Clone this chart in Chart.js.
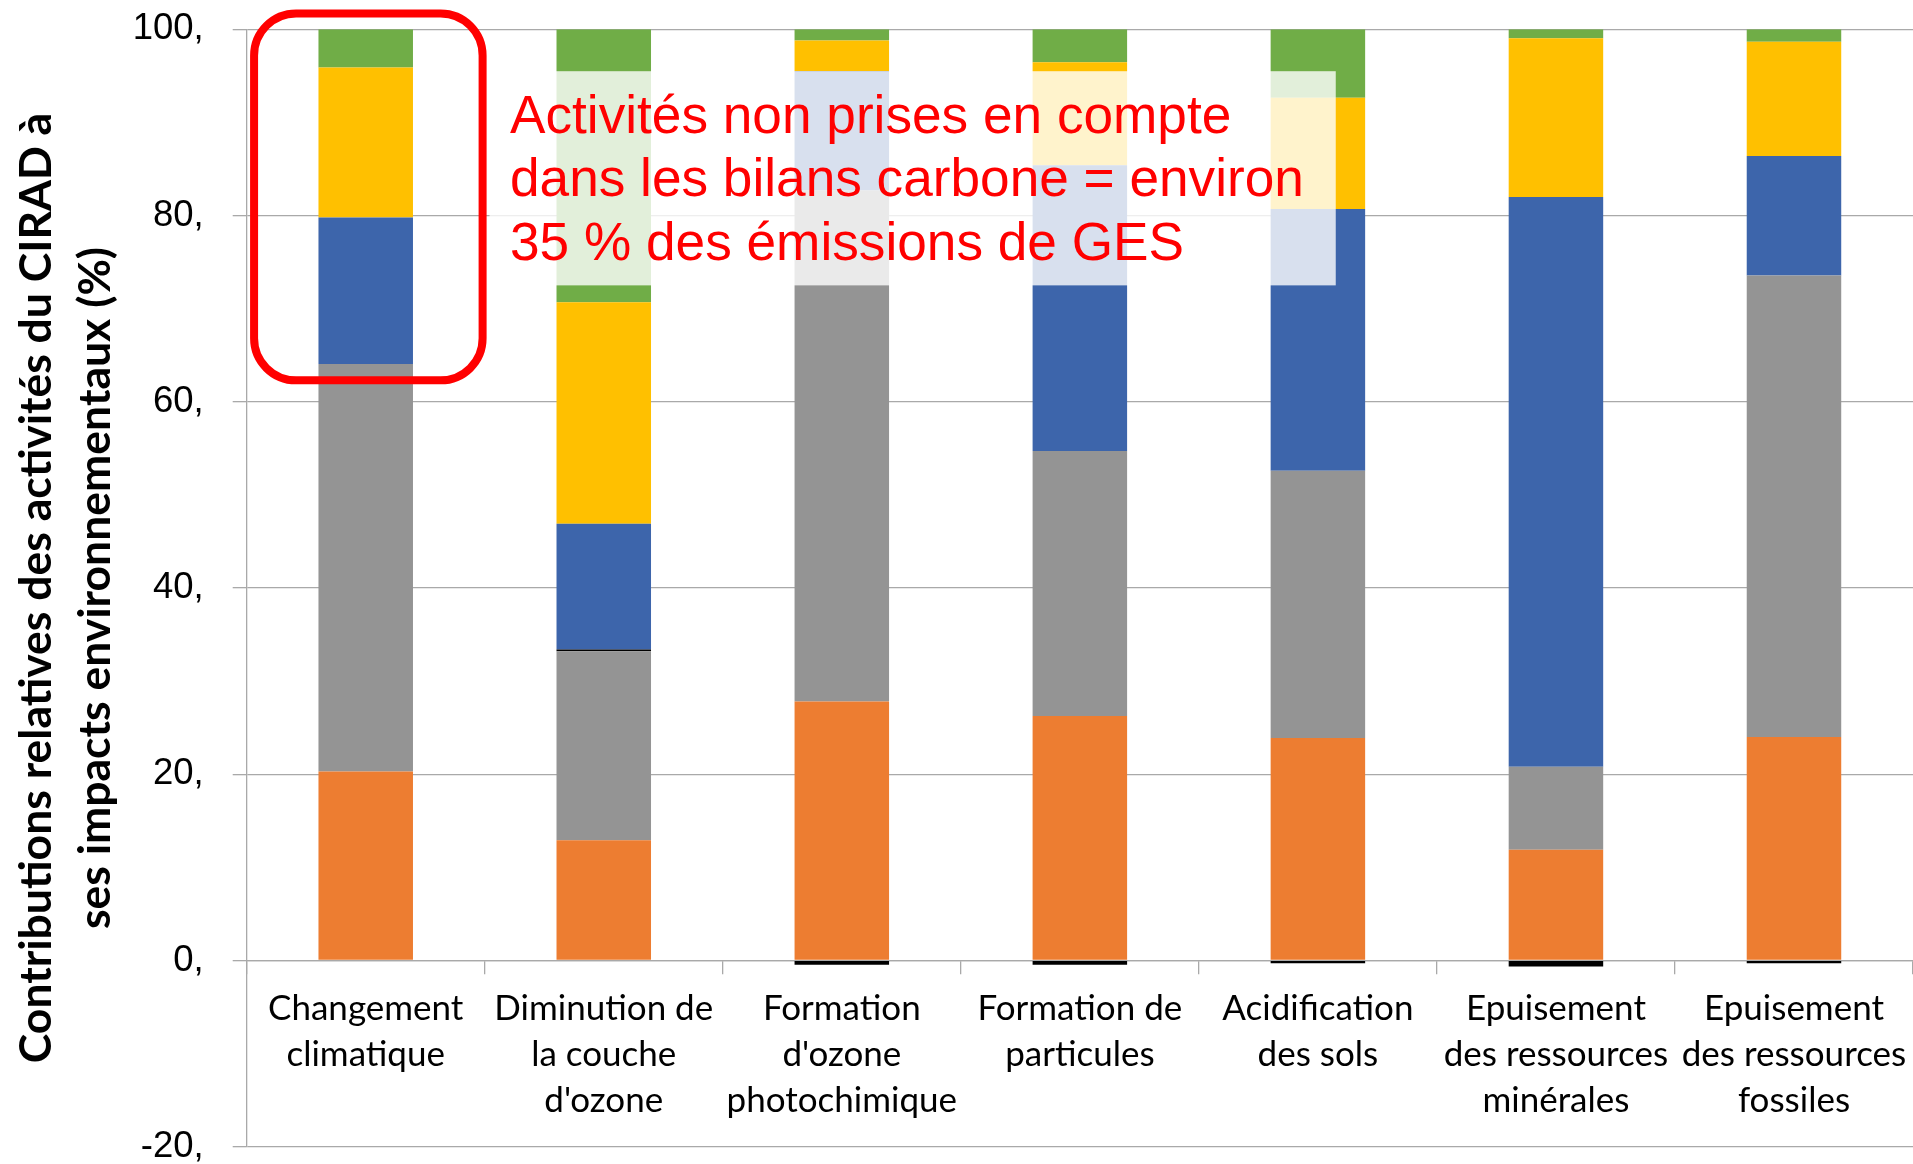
<!DOCTYPE html>
<html>
<head>
<meta charset="utf-8">
<script src="https://cdn.jsdelivr.net/npm/chart.js@4"></script>
<style>
  html, body { margin: 0; padding: 0; background: #ffffff; }
  #wrap { width: 1913px; height: 1164px; position: relative; }
</style>
</head>
<body>
<div id="wrap"><canvas id="chart" width="1913" height="1164"></canvas></div>
<script>
// ---------- data ----------
const categories = [
  ["Changement", "climatique"],
  ["Diminution de", "la couche", "d'ozone"],
  ["Formation", "d'ozone", "photochimique"],
  ["Formation de", "particules"],
  ["Acidification", "des sols"],
  ["Epuisement", "des ressources", "minérales"],
  ["Epuisement", "des ressources", "fossiles"]
];
const serieOrange = [20.3, 12.9, 27.8, 26.25, 23.9, 11.9, 24.0];
const serieGris   = [43.75, 20.3, 54.9, 28.45, 28.7, 8.9, 49.55];
const serieNoir   = [0, 0.2, -0.45, -0.45, -0.3, -0.65, -0.3];
const serieBleu   = [15.75, 13.5, 12.8, 30.7, 28.1, 61.2, 12.85];
const serieJaune  = [16.1, 23.8, 3.3, 11.05, 11.95, 17.05, 12.27];
const serieVert   = [4.1, 29.3, 1.2, 3.55, 7.35, 0.95, 1.33];
const yTicks = [-20, 0, 20, 40, 60, 80, 100];
const yTitleLines = ["Contributions relatives des activités du CIRAD à", "ses impacts environnementaux (%)"];
const annotationLines = ["Activités non prises en compte", "dans les bilans carbone = environ", "35 % des émissions de GES"];

// annotation placement in scale units (category index, y value)
const fadeBox = { xMin: 0.52, xMax: 4.075, yMin: 72.5, yMax: 95.5 };
const highlightBox = { xMin: -0.469, xMax: 0.491, yMin: 62.3, yMax: 101.7 };
const textAnchor = { x: 0.606, y: 88.9 };

// ---------- styles ----------
const GRID = '#A9A9A9';
const colors = {
  orange: '#ED7D31', gris: '#949494', noir: '#000000',
  bleu: '#3D65AB', jaune: '#FFC000', vert: '#70AD47'
};

function catPixel(xs, v) {
  const p0 = xs.getPixelForValue(0), p1 = xs.getPixelForValue(1);
  return p0 + (p1 - p0) * v;
}

const annotationPlugin = {
  id: 'annotations',
  afterDraw(chart) {
    const { ctx, scales: { x, y } } = chart;
    ctx.save();
    // translucent text box (fades bars behind it)
    const fx1 = catPixel(x, fadeBox.xMin), fx2 = catPixel(x, fadeBox.xMax);
    const fy1 = y.getPixelForValue(fadeBox.yMax), fy2 = y.getPixelForValue(fadeBox.yMin);
    ctx.fillStyle = 'rgba(255,255,255,0.8)';
    ctx.fillRect(fx1, fy1, fx2 - fx1, fy2 - fy1);
    // red rounded highlight
    const hx1 = catPixel(x, highlightBox.xMin), hx2 = catPixel(x, highlightBox.xMax);
    const hy1 = y.getPixelForValue(highlightBox.yMax), hy2 = y.getPixelForValue(highlightBox.yMin);
    ctx.strokeStyle = '#FF0000';
    ctx.lineWidth = 8;
    ctx.beginPath();
    ctx.roundRect(hx1, hy1, hx2 - hx1, hy2 - hy1, 42);
    ctx.stroke();
    // red text
    ctx.fillStyle = '#FF0000';
    ctx.font = '53.2px "Liberation Sans", Arial, sans-serif';
    ctx.textAlign = 'left';
    ctx.textBaseline = 'alphabetic';
    const tx = catPixel(x, textAnchor.x);
    const ty = y.getPixelForValue(textAnchor.y);
    annotationLines.forEach((line, i) => ctx.fillText(line, tx, ty + i * 63.7));
    ctx.restore();
  }
};

const mk = (label, data, color) => ({
  label, data, backgroundColor: color, borderWidth: 0,
  categoryPercentage: 1.0, barPercentage: 0.397
});

new Chart(document.getElementById('chart'), {
  type: 'bar',
  data: {
    labels: categories,
    datasets: [
      mk('Série 1', serieOrange, colors.orange),
      mk('Série 2', serieGris, colors.gris),
      mk('Série 3', serieNoir, colors.noir),
      mk('Série 4', serieBleu, colors.bleu),
      mk('Série 5', serieJaune, colors.jaune),
      mk('Série 6', serieVert, colors.vert)
    ]
  },
  options: {
    responsive: false,
    animation: false,
    devicePixelRatio: 1,
    layout: { padding: { top: 29.3, bottom: 17.3, left: 0, right: 0 } },
    plugins: { legend: { display: false }, tooltip: { enabled: false } },
    scales: {
      x: {
        type: 'category',
        stacked: true,
        position: { y: 0 },
        grid: { display: true, drawOnChartArea: false, drawTicks: true, tickLength: 13, offset: true, color: GRID, lineWidth: 1.3 },
        border: { display: true, color: GRID, width: 1.3 },
        ticks: {
          autoSkip: false, maxRotation: 0, minRotation: 0, padding: 12,
          color: '#000000',
          font: { family: 'Lato', size: 35, lineHeight: 46 / 35 }
        },
        afterFit(s) { s.paddingLeft = 0; s.paddingRight = 0; s.height = 0; }
      },
      y: {
        stacked: true,
        min: -20, max: 100,
        afterBuildTicks(s) { s.ticks = yTicks.map(v => ({ value: v })); },
        grid: { color: GRID, lineWidth: 1.3, drawTicks: true, tickLength: 14 },
        border: { display: true, color: GRID, width: 1.3 },
        ticks: {
          padding: 29, color: '#000000',
          font: { family: '"Liberation Sans"', size: 36.5 },
          callback: v => v + ','
        },
        title: {
          display: true, text: yTitleLines, color: '#000000',
          font: { family: 'Lato', weight: 'bold', size: 44.5, lineHeight: 59 / 44.5 },
          padding: { top: 7.5, bottom: 0 }
        },
        afterFit(s) { s.width = 246.7; s.paddingTop = 0; s.paddingBottom = 0; }
      }
    }
  },
  plugins: [annotationPlugin]
});
</script>
</body>
</html>
